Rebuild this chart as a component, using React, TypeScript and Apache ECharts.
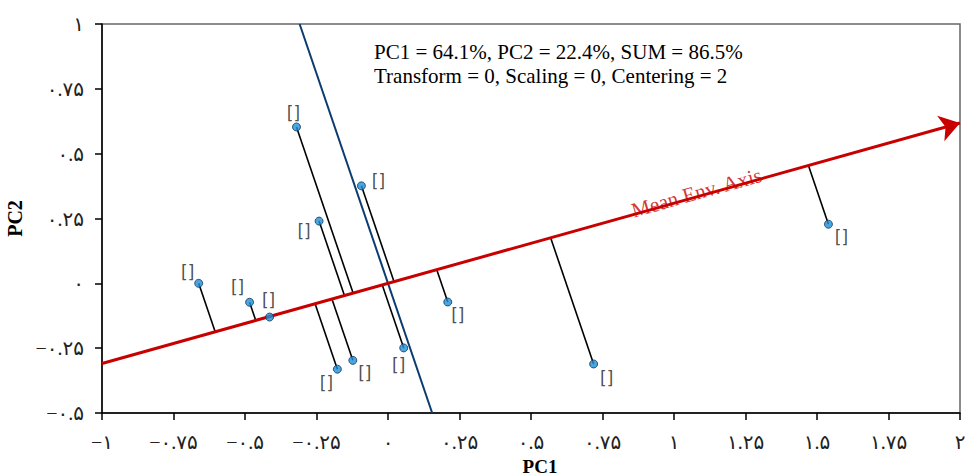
import React, { useEffect, useRef } from "react";
import * as echarts from "echarts";

// ---- data ----
const PC1 = [-0.32, -0.093, -0.241, -0.662, -0.484, -0.414, -0.177, -0.123, 0.055, 0.209, 0.719, 1.54];
const PC2 = [0.603, 0.376, 0.24, 0.0, -0.073, -0.13, -0.331, -0.297, -0.249, -0.072, -0.311, 0.228];
const POINT_LABELS = ["[]", "[]", "[]", "[]", "[]", "[]", "[]", "[]", "[]", "[]", "[]", "[]"];
// Mean environment axis direction (PC1, PC2)
const MEAN_ENV_DIR = [1, 0.309];
const MEAN_ENV_LABEL = "Mean Env. Axis";
const MEAN_ENV_LABEL_AT = 1.086; // PC1 position of the axis label

const X_TICKS = [-1, -0.75, -0.5, -0.25, 0, 0.25, 0.5, 0.75, 1, 1.25, 1.5, 1.75, 2];
const X_TICK_LABELS = ["−۱", "−۰.۷۵", "−۰.۵", "−۰.۲۵", "۰", "۰.۲۵", "۰.۵", "۰.۷۵", "۱", "۱.۲۵", "۱.۵", "۱.۷۵", "۲"];
const Y_TICKS = [-0.5, -0.25, 0, 0.25, 0.5, 0.75, 1];
const Y_TICK_LABELS = ["−۰.۵", "−۰.۲۵", "۰", "۰.۲۵", "۰.۵", "۰.۷۵", "۱"];

const ANNOTATION = [
  "PC1 = 64.1%, PC2 = 22.4%, SUM = 86.5%",
  "Transform = 0, Scaling = 0, Centering = 2",
];

// ---- styles (label offsets in px, per point) ----
const LABEL_OFFSETS: [number, number][] = [
  [-3, -14], [17, -5], [-15, 10], [-11, -11], [-12, -15], [-1, -17],
  [-11, 14], [12, 13], [-5, 17], [10, 13], [13, 14], [13, 13],
];

const SERIF = '"Times New Roman", "Liberation Serif", "DejaVu Serif", serif';
const LABEL_FONT = '"Times New Roman", "Liberation Serif", "DejaVu Sans", serif';

function tickFmt(ticks: number[], labels: string[]) {
  return (v: number) => {
    const i = ticks.findIndex((t) => Math.abs(t - v) < 1e-9);
    return i >= 0 ? labels[i] : "";
  };
}

export default function App() {
  const ref = useRef<HTMLDivElement>(null);
  useEffect(() => {
    if (!ref.current) return;
    const chart = echarts.init(ref.current, null, { renderer: "svg" });
    const [dx, dy] = MEAN_ENV_DIR;
    const m = dy / dx;
    const dd = dx * dx + dy * dy;
    const xMin = X_TICKS[0];
    const xMax = X_TICKS[X_TICKS.length - 1];
    const yMin = Y_TICKS[0];
    const yMax = Y_TICKS[Y_TICKS.length - 1];

    const projections = PC1.map((x, i) => {
      const y = PC2[i];
      const t = (x * dx + y * dy) / dd;
      return { coords: [[x, y], [t * dx, t * dy]] };
    });

    chart.setOption({
      animation: false,
      grid: {
        left: 102,
        right: 5,
        top: 24,
        bottom: 63,
        show: true,
        borderColor: "#666",
        borderWidth: 1.5,
        containLabel: false,
        outerBoundsMode: "none",
      },
      xAxis: {
        type: "value",
        min: xMin,
        max: xMax,
        interval: 0.25,
        name: "PC1",
        nameLocation: "middle",
        nameGap: 35,
        nameTextStyle: {
          fontFamily: SERIF,
          fontWeight: "bold",
          fontSize: 19,
          color: "#000",
          padding: [0, 0, 0, 18],
        },
        axisLine: { show: true, onZero: false, lineStyle: { color: "#000", width: 1.5 } },
        axisTick: { show: true, length: 7, lineStyle: { color: "#000", width: 1.5 } },
        axisLabel: {
          formatter: tickFmt(X_TICKS, X_TICK_LABELS),
          fontFamily: LABEL_FONT,
          fontSize: 20,
          color: "#222",
          margin: 19,
        },
        splitLine: { show: false },
      },
      yAxis: {
        type: "value",
        min: yMin,
        max: yMax,
        interval: 0.25,
        name: "PC2",
        nameLocation: "middle",
        nameGap: 76,
        nameRotate: 90,
        nameTextStyle: { fontFamily: SERIF, fontWeight: "bold", fontSize: 20, color: "#000" },
        axisLine: { show: true, onZero: false, lineStyle: { color: "#000", width: 1.5 } },
        axisTick: { show: true, length: 7, lineStyle: { color: "#000", width: 1.5 } },
        axisLabel: {
          formatter: tickFmt(Y_TICKS, Y_TICK_LABELS),
          fontFamily: LABEL_FONT,
          fontSize: 20,
          color: "#222",
          margin: 18,
        },
        splitLine: { show: false },
      },
      graphic: [
        {
          type: "text",
          left: 374,
          top: 40,
          style: {
            text: ANNOTATION.join("\n"),
            font: `21px ${SERIF}`,
            lineHeight: 24,
            fill: "#000",
          },
        },
      ],
      series: [
        {
          type: "lines",
          coordinateSystem: "cartesian2d",
          z: 2,
          lineStyle: { color: "#000", width: 1.6, opacity: 1 },
          data: projections,
        },
        {
          type: "lines",
          coordinateSystem: "cartesian2d",
          z: 3,
          lineStyle: { color: "#0b3c70", width: 2, opacity: 1 },
          data: [{ coords: [[-m * yMax, yMax], [-m * yMin, yMin]] }],
        },
        {
          type: "lines",
          coordinateSystem: "cartesian2d",
          z: 4,
          symbol: ["none", "arrow"],
          symbolSize: 20,
          lineStyle: { color: "#c80000", width: 3, opacity: 1 },
          data: [{ coords: [[xMin, m * xMin], [xMax, m * xMax]] }],
        },
        {
          type: "scatter",
          z: 5,
          symbolSize: 0,
          silent: true,
          data: [[MEAN_ENV_LABEL_AT, m * MEAN_ENV_LABEL_AT]],
          label: {
            show: true,
            position: "inside",
            formatter: MEAN_ENV_LABEL,
            rotate: 15.7,
            offset: [-1, -4],
            fontFamily: SERIF,
            fontSize: 21,
            color: "#c80000",
          },
        },
        {
          type: "scatter",
          z: 6,
          symbol: "circle",
          symbolSize: 8,
          itemStyle: { color: "#1e8fd8", borderColor: "#13375a", borderWidth: 1 },
          data: PC1.map((x, i) => ({
            value: [x, PC2[i]],
            label: {
              show: true,
              position: "inside",
              offset: LABEL_OFFSETS[i],
              formatter: POINT_LABELS[i],
              fontFamily: '"DejaVu Sans", Arial, sans-serif',
              fontSize: 17,
              color: "#222",
            },
          })),
        },
      ],
    });
    return () => chart.dispose();
  }, []);
  return (
    <div
      ref={ref}
      style={{ position: "fixed", left: 0, top: 0, width: 965, height: 476, background: "#fff" }}
    />
  );
}
